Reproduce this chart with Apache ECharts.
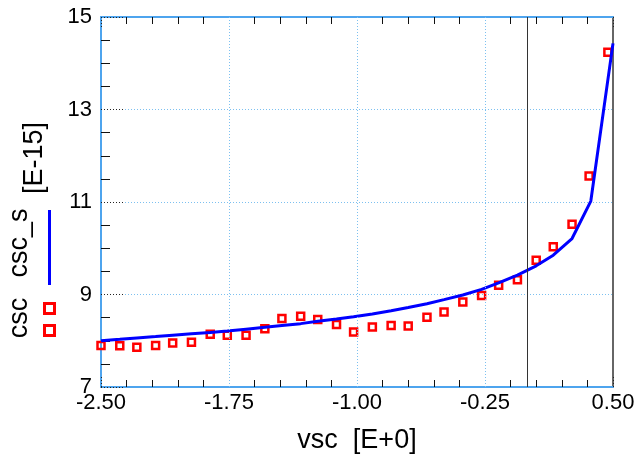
<!DOCTYPE html>
<html>
<head>
<meta charset="utf-8">
<script src="https://cdn.jsdelivr.net/npm/echarts@6/dist/echarts.min.js"></script>
<style>
  html, body { margin: 0; padding: 0; background: #ffffff; }
  #chart { width: 639px; height: 461px; }
</style>
</head>
<body>
<div id="chart"></div>
<script>
// Measured csc (squares) against vsc
const vscPoints = [-2.50, -2.39, -2.29, -2.18, -2.08, -1.97, -1.86, -1.76, -1.65, -1.54,
                   -1.44, -1.33, -1.23, -1.12, -1.02, -0.91, -0.80, -0.70, -0.59, -0.49,
                   -0.38, -0.27, -0.17, -0.06, 0.05, 0.15, 0.26, 0.36, 0.47];
const cscValues = [7.90, 7.89, 7.86, 7.90, 7.95, 7.97, 8.14, 8.12, 8.12, 8.26,
                   8.48, 8.53, 8.46, 8.35, 8.19, 8.30, 8.33, 8.32, 8.51, 8.62,
                   8.84, 8.98, 9.20, 9.32, 9.74, 10.03, 10.52, 11.56, 14.24];

// Simulated csc_s (line) against vsc
const vscCurve = [-2.50, -2.39, -2.29, -2.18, -2.08, -1.97, -1.86, -1.76, -1.65, -1.54,
                  -1.44, -1.33, -1.23, -1.12, -1.02, -0.91, -0.80, -0.70, -0.59, -0.49,
                  -0.38, -0.27, -0.17, -0.06, 0.05, 0.15, 0.26, 0.37, 0.50];
const cscSValues = [8.00, 8.03, 8.06, 8.09, 8.12, 8.15, 8.18, 8.21, 8.25, 8.29,
                    8.33, 8.37, 8.42, 8.47, 8.52, 8.58, 8.65, 8.72, 8.80, 8.89,
                    8.99, 9.11, 9.25, 9.42, 9.62, 9.85, 10.21, 11.02, 14.43];

// Axis ticks
const xTickValues = [-2.5, -1.75, -1.0, -0.25, 0.5];
const xTickLabels = ['-2.50', '-1.75', '-1.00', '-0.25', '0.50'];
const yTickValues = [7, 9, 11, 13, 15];
const yTickLabels = ['7', '9', '11', '13', '15'];

// Vertical reference at vsc = 0
const vscMarker = 0;

const FONT = '"Liberation Sans", Arial, sans-serif';
const AXIS_BLUE = '#4ea4ee';
const GRID_BLUE = '#7cc0f0';

function pickLabel(values, labels) {
  return function (v) {
    const i = values.findIndex(t => Math.abs(t - v) < 1e-6);
    return i >= 0 ? labels[i] : '';
  };
}

const chart = echarts.init(document.getElementById('chart'), null, { renderer: 'canvas' });

// Inner vertical grid lines at the major x ticks
const innerXTicks = xTickValues.slice(1, -1);
const verticalGrid = innerXTicks.map(v => ({
  xAxis: v,
  lineStyle: { color: GRID_BLUE, type: [1, 2], width: 1 }
}));

chart.setOption({
  animation: false,
  backgroundColor: '#ffffff',
  grid: { left: 101, right: 26, top: 17, bottom: 74, containLabel: false },
  xAxis: [
    {
      type: 'value', position: 'bottom', min: -2.5, max: 0.5, interval: 0.75,
      axisLine: { show: true, onZero: false, lineStyle: { color: AXIS_BLUE, width: 2 } },
      axisTick: { show: true, inside: true, length: 10, lineStyle: { color: '#222', type: [1, 2], width: 1 } },
      minorTick: { show: true, splitNumber: 5, length: 7, lineStyle: { color: '#111', width: 1 } },
      splitLine: { show: false },
      axisLabel: {
        show: true, margin: 5, color: '#000', fontFamily: FONT, fontSize: 22,
        formatter: pickLabel(xTickValues, xTickLabels)
      },
      name: 'vsc  [E+0]', nameLocation: 'middle', nameGap: 40,
      nameTextStyle: { color: '#000', fontFamily: FONT, fontSize: 27 }
    },
    {
      type: 'value', position: 'top', min: -2.5, max: 0.5, interval: 0.75,
      axisLine: { show: true, onZero: false, lineStyle: { color: AXIS_BLUE, width: 2 } },
      axisTick: { show: true, inside: true, length: 10, lineStyle: { color: '#222', type: [1, 2], width: 1 } },
      minorTick: { show: true, splitNumber: 5, length: 7, lineStyle: { color: '#111', width: 1 } },
      splitLine: { show: false },
      axisLabel: { show: false }
    }
  ],
  yAxis: [
    {
      type: 'value', position: 'left', min: 7, max: 15, interval: 2,
      axisLine: { show: true, onZero: false, lineStyle: { color: AXIS_BLUE, width: 2 } },
      axisTick: { show: true, inside: true, length: 22, lineStyle: { color: '#222', type: [1, 2], width: 1 } },
      minorTick: { show: true, splitNumber: 4, length: 9, lineStyle: { color: '#111', width: 1 } },
      splitLine: { show: true, lineStyle: { color: GRID_BLUE, type: [1, 2], width: 1 } },
      axisLabel: {
        show: true, margin: 9, color: '#000', fontFamily: FONT, fontSize: 22,
        formatter: pickLabel(yTickValues, yTickLabels)
      }
    },
    {
      type: 'value', position: 'right', min: 7, max: 15, interval: 2,
      axisLine: { show: true, onZero: false, lineStyle: { color: '#666', width: 2 } },
      axisTick: { show: false },
      splitLine: { show: false },
      axisLabel: { show: false }
    }
  ],
  series: [
    {
      name: 'csc',
      type: 'scatter',
      xAxisIndex: 0, yAxisIndex: 0,
      symbol: 'rect',
      symbolSize: 7,
      itemStyle: { color: 'rgba(0,0,0,0)', borderColor: '#ff0000', borderWidth: 2.5, opacity: 1 },
      data: vscPoints.map((v, i) => [v, cscValues[i]]),
      markLine: {
        silent: true,
        symbol: ['none', 'none'],
        label: { show: false },
        data: verticalGrid
      },
      z: 3
    },
    {
      name: 'csc_s',
      type: 'line',
      xAxisIndex: 0, yAxisIndex: 0,
      showSymbol: false,
      symbol: 'none',
      lineStyle: { color: '#0000ff', width: 3 },
      data: vscCurve.map((v, i) => [v, cscSValues[i]]),
      markLine: {
        silent: true,
        symbol: ['none', 'none'],
        label: { show: false },
        lineStyle: { color: '#333', width: 1, type: 'solid' },
        data: [{ xAxis: vscMarker }]
      },
      z: 4
    }
  ],
  graphic: [
    {
      type: 'text', x: 20, y: 318, rotation: Math.PI / 2,
      style: { text: 'csc', font: '27px ' + FONT, fill: '#000', align: 'center', verticalAlign: 'middle' }
    },
    {
      type: 'text', x: 20, y: 243, rotation: Math.PI / 2,
      style: { text: 'csc_s', font: '27px ' + FONT, fill: '#000', align: 'center', verticalAlign: 'middle' }
    },
    {
      type: 'text', x: 35, y: 158, rotation: Math.PI / 2,
      style: { text: '[E-15]', font: '27px ' + FONT, fill: '#000', align: 'center', verticalAlign: 'middle' }
    },
    {
      type: 'rect', shape: { x: 44.5, y: 303.5, width: 10, height: 10 },
      style: { fill: 'none', stroke: '#ff0000', lineWidth: 3 }
    },
    {
      type: 'rect', shape: { x: 44.5, y: 325.5, width: 10, height: 10 },
      style: { fill: 'none', stroke: '#ff0000', lineWidth: 3 }
    },
    {
      type: 'line', shape: { x1: 49.5, y1: 210, x2: 49.5, y2: 285 },
      style: { stroke: '#0000ff', lineWidth: 3 }
    }
  ]
});
</script>
</body>
</html>
